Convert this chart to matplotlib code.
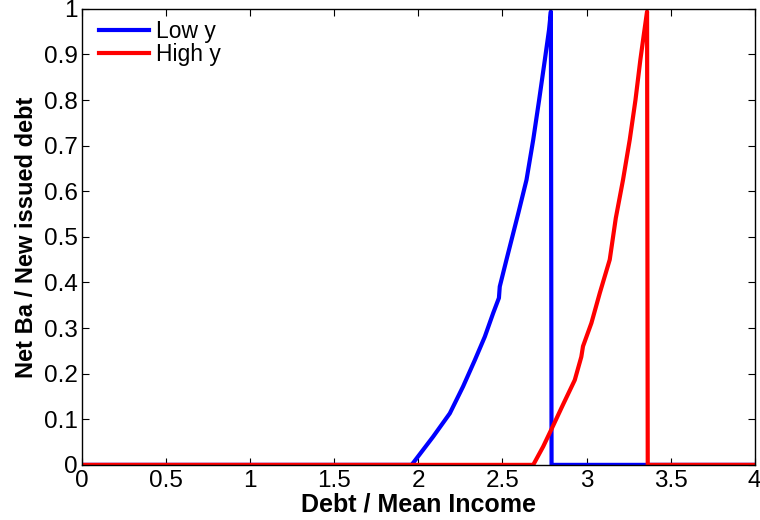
import numpy as np
import matplotlib
matplotlib.use("Agg")
import matplotlib.pyplot as plt
from matplotlib.ticker import FormatStrFormatter

plt.rcParams['font.family'] = ['Liberation Sans', 'DejaVu Sans']

# Low y: zero up to ~1.96, rises to ~0.99 at 2.79, then drops back to zero
low_x = [0.0, 1.96, 2.088, 2.187, 2.266, 2.336, 2.395, 2.445, 2.479, 2.484,
         2.524, 2.564, 2.595, 2.643, 2.683, 2.718, 2.752, 2.777, 2.788,
         2.792, 4.0]
low_y = [0.0, 0.0, 0.062, 0.113, 0.172, 0.230, 0.281, 0.333, 0.366, 0.391,
         0.450, 0.508, 0.553, 0.625, 0.713, 0.800, 0.888, 0.954, 0.994,
         0.0, 0.0]

# High y: zero up to ~2.68, rises to ~0.99 at 3.36, then drops back to zero
high_x = [0.0, 2.683, 2.742, 2.79, 2.86, 2.93, 2.969, 2.979, 3.029, 3.079,
          3.138, 3.174, 3.217, 3.257, 3.291, 3.320, 3.342, 3.36, 3.364, 4.0]
high_y = [0.0, 0.0, 0.040, 0.077, 0.132, 0.186, 0.237, 0.26, 0.311, 0.377,
          0.45, 0.541, 0.625, 0.713, 0.800, 0.888, 0.947, 0.994, 0.0, 0.0]

series_labels = ['Low y', 'High y']
x_label = 'Debt / Mean Income'
y_label = 'Net Ba / New issued debt'

fig = plt.figure(figsize=(7.6, 5.2), dpi=100)
ax = fig.add_axes([0.108, 0.106, 0.885, 0.877])

ax.plot(low_x, low_y, color='#0000ff', lw=3, label=series_labels[0])
ax.plot(high_x, high_y, color='#ff0000', lw=3, label=series_labels[1])

ax.set_xlim(0, 4)
ax.set_ylim(0, 1)
ax.set_xticks(np.arange(0, 4.01, 0.5))
ax.set_yticks(np.arange(0, 1.01, 0.1))
ax.xaxis.set_major_formatter(FormatStrFormatter('%g'))
ax.yaxis.set_major_formatter(FormatStrFormatter('%g'))
ax.tick_params(direction='in', top=True, right=True, length=5, width=0.8,
               labelsize=17.5)
ax.tick_params(axis='x', pad=4)
ax.tick_params(axis='y', pad=3)
for sp in ax.spines.values():
    sp.set_linewidth(1.0)

ax.set_xlabel(x_label, fontsize=18, fontweight='bold', labelpad=0)
ax.set_ylabel(y_label, fontsize=17, fontweight='bold', labelpad=4)

ax.legend(loc='upper left', frameon=False, fontsize=16.5, handlelength=2.2,
          handletextpad=0.3, labelspacing=0.0, borderaxespad=0.1,
          bbox_to_anchor=(0.008, 1.0))

fig.savefig('out.png', dpi=100)
plt.close(fig)
